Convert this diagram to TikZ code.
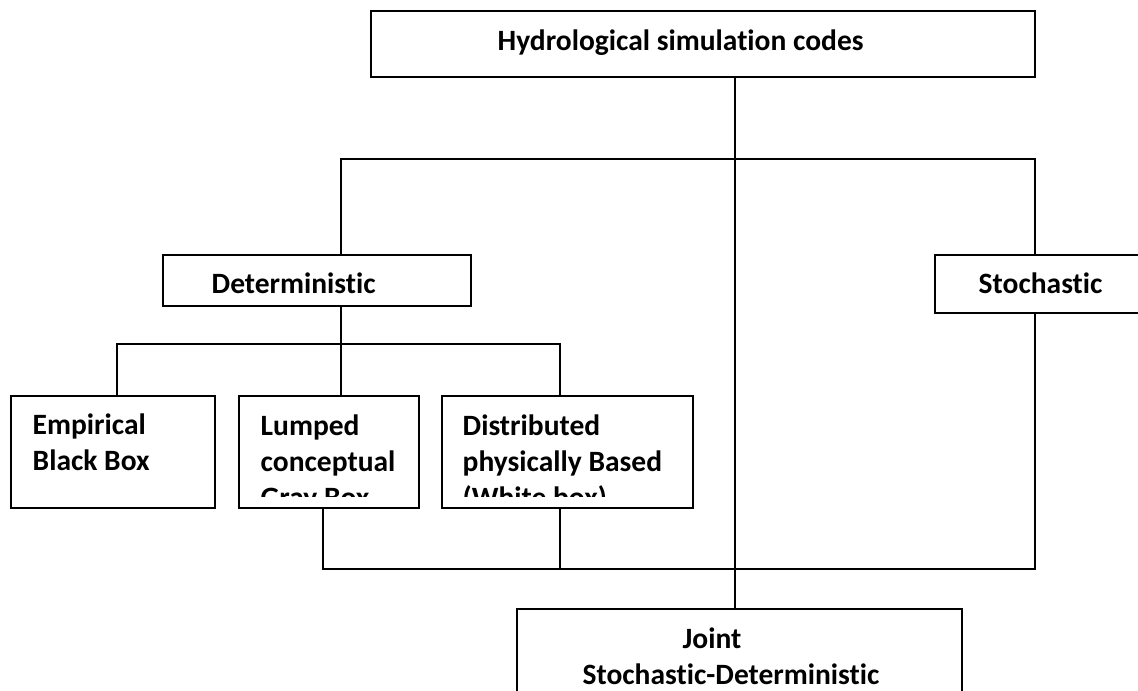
\documentclass[tikz,border=0pt]{standalone}
\usepackage{fontspec}
\setmainfont{Carlito}[Ligatures=NoCommon]
\usetikzlibrary{calc}
\begin{document}
\begin{tikzpicture}[x=0.5pt,y=-0.5pt,line width=0.7pt,
		box/.style={draw,inner sep=0pt,line width=0.8pt},
		txt/.style={inner sep=0pt,anchor=base west,align=left,
			font=\fontsize{14.75}{18}\selectfont\bfseries},
		txt2/.style={txt,anchor=north west}]
				\useasboundingbox (0,0) rectangle (1138,690);
				\clip (0,0) rectangle (1138,690);
				% boxes
				\node[box,minimum width=332pt,minimum height=33pt] (hsc) at (703,44) {};
				\node[box,minimum width=154pt,minimum height=25.5pt] (det) at (317,280.5) {};
				\node[box,minimum width=105pt,minimum height=29pt] (sto) at (1040,284) {};
				\node[box,minimum width=102pt,minimum height=56pt] (emp) at (113,452) {};
				\node[box,minimum width=90pt,minimum height=56pt] (lum) at (329,452) {};
				\node[box,minimum width=125.5pt,minimum height=56pt] (dis) at (567.5,452) {};
				\node[box,minimum width=222.5pt,minimum height=55.5pt] (jn) at (739.5,664.5) {};
				% texts (first baseline - 25.2)
				\node[txt] (hsc-t) at (497,51) {Hydrological simulation codes};
				\node[txt] (det-t) at (211,293) {Deterministic};
				\node[txt] (sto-t) at (978,293) {Stochastic};
				\node[txt2] (emp-t) at (32,408.8) {\strut Empirical\\Black Box};
				\begin{scope}
					\clip (lum.north west) rectangle ($(dis.south east)+(0,-12)$);
					\node[txt2] (lum-t) at (260,409.8) {\strut Lumped\\conceptual\\Gray Box};
					\node[txt2] (dis-t) at (462,409.8) {\strut Distributed\\physically Based\\(White box)};
				\end{scope}
				\node[txt2,anchor=north,align=center] (jn-t) at (731,622.8) {\strut Joint\hspace*{19pt}\\Stochastic-Deterministic};
				% connectors
				\coordinate (b1w) at (341,159);
				\coordinate (b1e) at (1035,159);
				\coordinate (b2w) at (117,344);
				\coordinate (b2e) at (560,344);
				\coordinate (b3w) at (323,569);
				\coordinate (b3e) at (1035,569);
				\coordinate (trunk) at (735,159);
				\draw (trunk |- hsc.south) -- (trunk |- jn.north);
				\draw (b1w |- det.north) -- (b1w) -- (b1e) -- (b1e |- sto.north);
				\draw (b1w |- det.south) -- (b1w |- lum.north);
				\draw (b2w |- emp.north) -- (b2w) -- (b2e) -- (b2e |- dis.north);
				\draw (b3w |- lum.south) -- (b3w) -- (b3e) -- (b3e |- sto.south);
				\draw (b2e |- dis.south) -- (b2e |- b3w);
			\end{tikzpicture}
\end{document}
